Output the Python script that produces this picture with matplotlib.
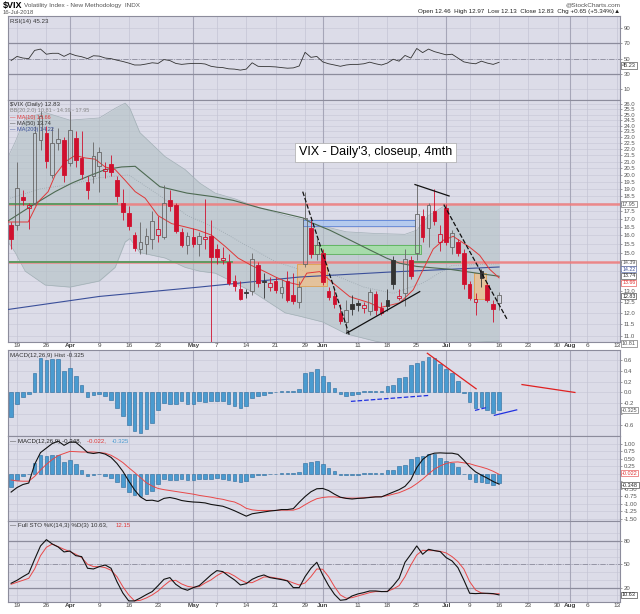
import numpy as np
import matplotlib
matplotlib.use('Agg')
import matplotlib.pyplot as plt
from matplotlib.ticker import NullLocator

plt.rcParams['font.family'] = ['Liberation Sans', 'DejaVu Sans']

# ---- date axis: trading days from 16 Mar 2018 (index 0) to 16 Jul 2018 (index 83), axis runs to mid Aug
tick_idx = [1, 6, 10, 15, 20, 25, 31, 35, 40, 45, 50, 53, 59, 64, 69, 74, 78, 83, 88, 93, 95, 98, 103]
tick_lab = ['19', '26', 'Apr', '9', '16', '23', 'May', '7', '14', '21', '29', 'Jun',
            '11', '18', '25', 'Jul', '9', '16', '23', '30', 'Aug', '6', '13']
month_idx = [10, 31, 53, 74, 95]

# ---- $VIX daily candles
opens = [16.6, 16.6, 18.45, 17.7, 18.0, 22.8, 23.4, 20.0, 22.5, 22.8,
         20.9, 22.9, 21.3, 19.5, 19.9, 20.7, 20.3, 20.8, 19.6, 18.0,
         17.4, 16.0, 15.2, 15.5, 15.8, 16.0, 15.9, 18.2, 17.9, 16.2,
         15.4, 15.9, 15.5, 15.8, 15.95, 15.2, 14.6, 14.5, 13.5, 13.1,
         12.95, 13.0, 14.3, 13.5, 13.2, 13.5, 12.9, 13.5, 12.8, 12.5,
         14.4, 16.4, 14.9, 15.0, 13.0, 12.75, 12.0, 11.6, 12.4, 12.45,
         12.2, 12.1, 12.85, 12.2, 12.6, 14.6, 12.7, 12.9, 14.6, 15.0,
         17.2, 16.4, 17.5, 15.6, 17.7, 15.3, 15.6, 15.0, 13.35, 12.5,
         14.0, 13.3, 12.4, 12.46]
highs = [16.8, 21.0, 18.9, 18.0, 24.0, 25.3, 24.0, 23.9, 23.8, 23.0,
         25.3, 23.5, 23.5, 19.9, 22.6, 22.2, 21.0, 21.5, 19.9, 19.0,
         17.8, 16.2, 16.8, 16.4, 17.5, 17.2, 19.3, 18.9, 18.0, 16.4,
         16.2, 16.4, 16.2, 18.3, 16.9, 15.5, 15.3, 14.9, 13.8, 13.5,
         13.1, 15.0, 14.5, 13.9, 13.7, 13.7, 13.6, 14.0, 13.9, 13.5,
         18.8, 16.9, 15.8, 15.2, 13.2, 13.1, 12.4, 12.6, 12.8, 12.6,
         12.5, 13.1, 13.0, 12.5, 13.1, 14.8, 13.1, 15.2, 14.8, 19.3,
         17.6, 18.0, 19.0, 16.6, 17.95, 16.3, 15.8, 15.2, 13.5, 12.9,
         14.1, 13.4, 12.6, 12.97]
lows = [15.2, 16.3, 17.9, 16.35, 17.9, 21.9, 20.5, 19.8, 21.9, 19.5,
        20.7, 20.6, 19.7, 18.3, 19.4, 18.8, 19.8, 19.9, 18.1, 16.9,
        16.3, 15.1, 14.9, 14.9, 15.2, 15.6, 15.8, 17.5, 16.1, 15.3,
        14.9, 15.3, 14.8, 15.2, 10.5, 14.4, 14.4, 13.3, 13.0, 12.6,
        12.7, 12.8, 13.2, 12.7, 13.0, 12.9, 12.7, 12.5, 12.4, 12.2,
        14.2, 14.7, 14.6, 13.3, 12.6, 12.2, 11.5, 11.15, 11.9, 12.1,
        12.0, 11.9, 11.9, 11.9, 12.1, 13.1, 12.6, 12.3, 13.6, 14.6,
        15.6, 15.3, 16.6, 15.1, 15.4, 14.9, 14.8, 13.1, 12.6, 11.9,
        13.2, 12.5, 11.6, 12.13]
closes = [15.80, 19.02, 18.20, 17.86, 23.34, 24.87, 21.03, 22.50, 22.87, 19.97,
          23.62, 21.10, 20.06, 18.94, 21.49, 21.77, 20.47, 20.24, 18.49, 17.41,
          16.56, 15.25, 15.60, 15.96, 16.88, 16.34, 18.02, 17.84, 16.24, 15.41,
          15.93, 15.49, 15.97, 15.90, 14.77, 14.75, 14.71, 13.42, 13.23, 12.65,
          12.93, 14.63, 13.42, 13.43, 13.42, 13.08, 13.22, 12.58, 12.53, 13.22,
          17.02, 14.94, 15.43, 13.46, 12.74, 12.40, 11.64, 12.13, 12.18, 12.35,
          12.34, 12.94, 12.12, 11.98, 12.31, 13.35, 12.79, 14.64, 13.77, 17.33,
          15.92, 17.91, 16.85, 16.09, 15.60, 16.14, 14.97, 13.37, 12.69, 12.64,
          13.63, 12.58, 12.18, 12.83]

# ---- overlays (at sample days)
bb_idx = [-0.5, 0.7, 2.4, 5.8, 10, 15, 17.7, 19.4, 20.2, 21.9, 26.2, 29.6, 32.1,
          34.7, 38.1, 41.5, 46.6, 49.1, 53, 57, 62, 67, 69, 71, 74, 83]
bb_up = [21.4, 22.6, 24.7, 25.2, 24.5, 24.7, 25.6, 26.1, 25.6, 23.4, 21.4, 20.4, 19.4,
         18.7, 18.3, 17.8, 17.2, 17.0, 16.55, 16.2, 16.1, 16.05, 16.3, 17.2, 17.9, 17.95]
bb_lo = [15.6, 15.0, 14.0, 13.3, 13.2, 13.5, 14.2, 15.6, 15.8, 15.0, 14.7, 14.2, 14.0,
         13.9, 13.4, 12.9, 12.0, 11.85, 11.6, 11.1, 10.8, 10.6, 10.6, 10.6, 10.7, 10.81]
bb_mid_idx = [-0.5, 5, 10, 15, 20, 25, 30, 35, 40, 45, 50, 55, 60, 65, 70, 75, 83]
bb_mid = [18.3, 19.0, 19.3, 19.8, 20.0, 18.6, 17.2, 16.4, 15.4, 14.5, 14.0, 13.8,
          13.2, 12.9, 13.4, 14.3, 14.39]

ma10_idx = [-0.5, 2.9, 4.6, 6.3, 7.5, 9.2, 10.9, 12.6, 14.3, 16, 17.7, 19.4, 21.1, 22.8,
            25, 27.3, 29.6, 31.8, 34.1, 36.4, 38.6, 40.9, 43, 45, 46.9, 49.1, 50.3, 52.5,
            54.8, 57.6, 61, 62.7, 66.1, 68.4, 70.1, 71.8, 73.5, 75.2, 78, 79.7, 81.4, 83]
ma10 = [16.8, 16.8, 18.1, 18.8, 20.0, 21.0, 21.5, 21.3, 21.2, 20.6, 20.4, 19.6, 18.8, 18.35,
        17.2, 16.7, 16.5, 16.3, 16.0, 15.35, 14.7, 14.3, 14.0, 13.7, 13.45, 13.3, 13.9, 13.98,
        13.39, 12.74, 12.45, 12.23, 12.45, 13.07, 14.1, 15.2, 15.7, 15.93, 15.3, 14.85, 14.1, 13.66]
ma50_idx = [-0.5, 2.4, 4.6, 7.5, 10.3, 13.1, 16, 18.8, 21.1, 25.3, 29.9, 34.4, 37.8, 42.3,
            46.9, 49.7, 50.8, 54.2, 57.6, 61, 63.9, 66.1, 69, 74.6, 79.2, 83]
ma50 = [16.87, 17.57, 18.1, 18.8, 19.4, 19.9, 20.4, 20.6, 20.65, 19.15, 18.7, 18.45, 18.2, 17.7,
        17.3, 17.05, 16.8, 16.3, 15.72, 15.15, 14.69, 14.42, 14.25, 14.1, 13.9, 13.74]
ma200_idx = [-0.5, 15, 32, 49, 64, 83]
ma200 = [12.15, 12.75, 13.2, 13.7, 13.95, 14.22]

# drawn-in levels, boxes and trend lines on the price panel
levels = [17.95, 14.5]
green_segs = [(-0.5, 18.0, 17.95), (-0.5, 37.6, 14.5), (68.7, 76.3, 14.5)]
zones = [(49.6, 68.7, 16.55, 16.95, '#a9c4f0', '#5b82d6'),
         (51.4, 69.7, 14.9, 15.42, '#9ee29e', '#58b058'),
         (48.6, 53.7, 13.25, 14.4, '#f0c08a', '#e0a050'),
         (78.8, 80.8, 12.65, 13.9, '#f0c08a', '#e0a050')]
trend_px = [((49.6, 18.8), (57.6, 11.0), '--'),
            ((57.1, 11.13), (69.5, 12.98), '-'),
            ((68.7, 19.3), (74.5, 18.5), '-'),
            ((73.6, 17.92), (84.4, 11.7), '--')]

# ---- indicators, one value per trading day
rsi = [47.5, 52.9, 50.8, 50.0, 60.8, 62.5, 55.8, 57.0, 57.0, 53.0,
       56.7, 54.0, 52.5, 50.0, 53.8, 53.3, 50.8, 50.0, 48.0, 46.3,
       44.2, 41.7, 41.7, 43.0, 44.6, 43.8, 48.8, 47.5, 43.8, 42.5,
       43.3, 43.8, 43.8, 43.0, 40.0, 38.8, 38.3, 36.7, 36.3, 35.0,
       36.3, 44.6, 40.0, 39.6, 39.6, 39.2, 38.3, 37.5, 37.9, 40.4,
       58.3, 51.7, 52.9, 45.8, 43.3, 41.7, 40.0, 41.7, 42.5, 42.5,
       43.3, 45.4, 43.3, 41.7, 44.2, 49.2, 46.7, 54.2, 50.8, 63.3,
       57.9, 62.5, 59.2, 57.1, 55.0, 55.8, 50.8, 45.8, 44.2, 43.3,
       46.7, 44.2, 42.5, 45.23]
hist = [-0.45, -0.21, -0.085, -0.025, 0.36, 0.63, 0.59, 0.61, 0.61, 0.39,
        0.45, 0.31, 0.13, -0.085, -0.04, -0.025, -0.065, -0.13, -0.28, -0.44,
        -0.60, -0.70, -0.74, -0.68, -0.57, -0.33, -0.19, -0.21, -0.22, -0.16,
        -0.22, -0.21, -0.16, -0.18, -0.16, -0.15, -0.16, -0.21, -0.24, -0.28,
        -0.25, -0.10, -0.06, -0.04, -0.01, 0.005, 0.03, 0.02, 0.02, 0.07,
        0.35, 0.38, 0.43, 0.31, 0.19, 0.085, -0.035, -0.06, -0.04, -0.03,
        0.025, 0.02, 0.02, 0.025, 0.11, 0.13, 0.27, 0.28, 0.50, 0.55,
        0.58, 0.65, 0.64, 0.53, 0.43, 0.35, 0.21, -0.01, -0.18, -0.28,
        -0.27, -0.32, -0.37, -0.325]
macd = [-0.61, -0.46, -0.36, -0.31, 0.31, 0.70, 0.85, 1.00, 1.08, 0.94,
        1.05, 1.04, 0.88, 0.70, 0.67, 0.70, 0.65, 0.54, 0.34, 0.08,
        -0.24, -0.54, -0.77, -0.89, -0.88, -0.92, -0.82, -0.79, -0.83, -0.89,
        -0.92, -0.94, -0.95, -0.97, -1.02, -1.05, -1.08, -1.15, -1.23, -1.32,
        -1.41, -1.33, -1.30, -1.27, -1.24, -1.22, -1.19, -1.19, -1.16, -0.95,
        -0.76, -0.60, -0.50, -0.49, -0.56, -0.68, -0.78, -0.82, -0.84, -0.82,
        -0.81, -0.79, -0.77, -0.77, -0.69, -0.61, -0.53, -0.42, -0.20, 0.20,
        0.47, 0.62, 0.68, 0.69, 0.68, 0.68, 0.64, 0.45, 0.23, 0.06,
        -0.05, -0.15, -0.26, -0.348]
signal = [-0.21, -0.24, -0.25, -0.25, -0.09, 0.12, 0.31, 0.47, 0.60, 0.67,
          0.74, 0.73, 0.72, 0.72, 0.72, 0.70, 0.68, 0.61, 0.50, 0.37,
          0.20, 0.04, -0.13, -0.30, -0.41, -0.49, -0.53, -0.56, -0.59, -0.62,
          -0.65, -0.68, -0.72, -0.75, -0.78, -0.82, -0.85, -0.90, -0.94, -1.03,
          -1.15, -1.20, -1.22, -1.22, -1.22, -1.22, -1.21, -1.21, -1.21, -1.15,
          -1.03, -0.92, -0.83, -0.79, -0.77, -0.77, -0.79, -0.81, -0.81, -0.81,
          -0.80, -0.78, -0.77, -0.76, -0.73, -0.68, -0.63, -0.55, -0.46, -0.33,
          -0.18, -0.01, 0.15, 0.26, 0.34, 0.38, 0.39, 0.36, 0.33, 0.27,
          0.22, 0.16, 0.08, -0.022]
sto_k = [25.6, 29.4, 34.1, 38.4, 56.4, 73.6, 81.7, 76.1, 72.3, 65.9,
         67.1, 61.1, 59.9, 44.9, 44.0, 47.0, 49.1, 44.9, 27.7, 13.1,
         2.9, 2.9, 6.7, 11.0, 14.9, 22.6, 30.7, 32.9, 24.3, 19.1,
         16.6, 20.0, 22.6, 29.4, 36.3, 41.9, 40.6, 35.0, 29.9, 23.4,
         25.1, 30.7, 34.1, 36.3, 32.9, 31.6, 30.3, 28.6, 20.0, 20.0,
         34.1, 44.9, 52.6, 36.3, 22.6, 11.4, 3.7, 4.6, 9.3, 11.9,
         13.6, 15.7, 15.7, 14.9, 14.9, 22.6, 32.0, 52.6, 62.9, 73.6,
         62.9, 69.3, 67.6, 66.3, 58.6, 54.3, 45.7, 29.9, 12.7, 12.3,
         12.7, 12.7, 12.3, 10.63]
sto_d = [24.3, 26.9, 29.4, 32.0, 44.0, 61.1, 71.9, 76.1, 72.7, 69.3,
         66.3, 62.9, 58.6, 50.0, 47.0, 47.0, 45.7, 42.3, 34.1, 21.3,
         10.6, 2.9, 3.7, 6.7, 10.6, 15.7, 22.6, 28.6, 29.4, 24.7,
         21.7, 20.4, 21.3, 26.0, 29.9, 35.4, 39.7, 38.9, 35.0, 29.9,
         26.4, 26.4, 29.9, 33.7, 33.7, 32.4, 31.1, 29.0, 26.0, 23.4,
         26.0, 34.1, 44.0, 43.6, 34.1, 21.3, 10.6, 6.3, 7.1, 9.3,
         11.4, 13.6, 14.9, 14.9, 15.3, 18.3, 22.6, 34.1, 49.1, 62.0,
         68.0, 67.6, 67.6, 66.7, 64.6, 59.9, 53.4, 44.0, 27.7, 17.0,
         13.1, 12.3, 11.9, 12.15]

# drawn lines on the histogram panel
trend_hist = [((70.8, 0.72), (79.1, 0.067), '#e02020', '-'),
              ((57.8, -0.164), (71.0, -0.055), '#2030e0', '--'),
              ((78.9, -0.33), (81.1, -0.27), '#2030e0', '--'),
              ((82.2, -0.42), (86.0, -0.32), '#2030e0', '-'),
              ((86.9, 0.145), (95.9, 0.0), '#e02020', '-')]

# ---------------------------------------------------------------- layout
W, H = 640.0, 614.0
BG = '#dcdce8'
X0, X1 = -0.53, 103.57


def box(top, bottom):
    return [8 / W, 1 - bottom / H, 612 / W, (bottom - top) / H]


fig = plt.figure(figsize=(6.4, 6.14), dpi=100)
fig.patch.set_facecolor('white')
ax_rsi = fig.add_axes(box(16, 100))
ax_px = fig.add_axes(box(100, 342))
ax_hist = fig.add_axes(box(350, 436))
ax_macd = fig.add_axes(box(436, 521))
ax_sto = fig.add_axes(box(521, 602))


def style(ax, yticks, ylabels, grid=None):
    ax.set_facecolor(BG)
    ax.set_xlim(X0, X1)
    ax.yaxis.tick_right()
    ax.yaxis.set_minor_locator(NullLocator())
    ax.set_yticks(yticks)
    ax.set_yticklabels(ylabels)
    ax.tick_params(axis='y', length=1.5, width=0.4, labelsize=4.3, pad=1,
                   colors='#555555')
    ax.set_xticks(tick_idx)
    ax.tick_params(axis='x', length=0, labelbottom=False)
    for s in ax.spines.values():
        s.set_color('#8c8c9c')
        s.set_linewidth(0.8)
    for t in (grid if grid is not None else yticks):
        ax.axhline(t, color='#cacad9', lw=0.5, zorder=0)
    for t in tick_idx:
        ax.axvline(t, color='#c4c4d4', lw=0.5, zorder=0)
    for t in month_idx:
        ax.axvline(t, color='#a6a6b8', lw=0.8, zorder=0)


def tag(ax, y, s, color='#222222', dy=0, size=4.0):
    ax.annotate(s, xy=(1.0, y), xycoords=ax.get_yaxis_transform(),
                xytext=(1.5, dy), textcoords='offset points', fontsize=size,
                color=color, va='center', ha='left', annotation_clip=False,
                zorder=10, bbox=dict(boxstyle='square,pad=0.12', fc='white',
                                     ec=color, lw=0.4))


def label(ax, y_frac, parts, x0=0.004, size=4.4):
    x = x0
    for s, c in parts:
        ax.text(x, y_frac, s, transform=ax.transAxes, fontsize=size,
                color=c, va='top', ha='left', zorder=12)
        x += len(s) * size * 0.52 / (612 * 0.72)


def blank(labels, hide):
    return ['' if s in hide else s for s in labels]


# ---------------------------------------------------------------- header
fig.text(3 / W, 1 - 5.5 / H, '$VIX', fontsize=6.5, weight='bold', va='center')
fig.text(24 / W, 1 - 5.5 / H, 'Volatility Index - New Methodology  INDX', fontsize=4.6,
         color='#555555', va='center')
fig.text(3 / W, 1 - 12.5 / H, '16-Jul-2018', fontsize=4.2, color='#555555', va='center')
fig.text(620 / W, 1 - 5 / H, '@StockCharts.com', fontsize=4.6, color='#555555',
         va='center', ha='right')
fig.text(620 / W, 1 - 12 / H,
         'Open 12.46  High 12.97  Low 12.13  Close 12.83  Chg +0.65 (+5.34%)\u25b2',
         fontsize=4.5, color='#222222', va='center', ha='right')

# ---------------------------------------------------------------- RSI
style(ax_rsi, [10, 30, 50, 70, 90], ['10', '30', '50', '70', '90'])
ax_rsi.set_ylim(-4.1, 105.8)
ax_rsi.axhline(70, color='#8c8c9c', lw=0.9, zorder=1)
ax_rsi.axhline(30, color='#8c8c9c', lw=0.9, zorder=1)
ax_rsi.axhline(50, color='#8c8c9c', lw=0.6, ls='-.', zorder=1)
ax_rsi.plot(range(len(rsi)), rsi, color='#333333', lw=0.6, zorder=3)
label(ax_rsi, 0.97, [('RSI(14) 45.23', '#333333')])
tag(ax_rsi, rsi[-1], '45.23', '#333333', dy=-2.2)

# ---------------------------------------------------------------- price
ax_px.set_yscale('log')
px_ticks = list(np.arange(11.0, 26.01, 0.5))
style(ax_px, px_ticks, blank(['%.1f' % t for t in px_ticks], {'18.0', '14.0', '13.5'}))
ax_px.set_ylim(10.77, 26.4)
ax_px.fill_between(bb_idx, bb_lo, bb_up, color='#b2c0c4', alpha=0.6, lw=0, zorder=1)
ax_px.plot(bb_idx, bb_up, color='#a2b0b6', lw=0.5, zorder=1)
ax_px.plot(bb_idx, bb_lo, color='#a2b0b6', lw=0.5, zorder=1)
ax_px.plot(bb_mid_idx, bb_mid, color='#9aa6ae', lw=0.6, ls=':', zorder=1)

for lv in levels:
    ax_px.axhline(lv, color='#f07a7a', lw=1.8, alpha=0.85, zorder=2)
for a, b, lv in green_segs:
    ax_px.plot([a, b], [lv, lv], color='#5e9a62', lw=1.4, zorder=2)
for a, b, lo, hi, fc, ec in zones:
    ax_px.fill_between([a, b], [lo, lo], [hi, hi], color=fc, alpha=0.75, lw=0, zorder=2)
    ax_px.plot([a, b, b, a, a], [lo, lo, hi, hi, lo], color=ec, lw=0.6, zorder=2)

ax_px.plot(ma200_idx, ma200, color='#3a4f9a', lw=0.8, zorder=3)
ax_px.plot(ma50_idx, ma50, color='#4d6a52', lw=0.8, zorder=3)
ax_px.plot(ma10_idx, ma10, color='#e03838', lw=0.7, zorder=3)

RED, UP = '#d0102e', '#333333'
wdt = 0.62
for i in range(len(closes)):
    o, h, l, c = opens[i], highs[i], lows[i], closes[i]
    prev = closes[i - 1] if i > 0 else np.inf
    col = RED if c < prev else UP
    top, bot = max(o, c), min(o, c)
    filled = c < o
    edge = col if (filled or col == RED) else '#666666'
    ax_px.vlines(i, top, h, color=edge, lw=0.6, zorder=4)
    ax_px.vlines(i, l, bot, color=edge, lw=0.6, zorder=4)
    ht = max(top - bot, 0.04)
    ax_px.bar(i, ht, bottom=bot, width=wdt, color=col if filled else 'none',
              edgecolor=edge, lw=0.6, zorder=5)

for (a, pa), (b, pb), ls in trend_px:
    ax_px.plot([a, b], [pa, pb], color='#111111', lw=0.9, ls=ls, zorder=6)

ax_px.text(49.0, 21.75, "VIX - Daily'3, closeup, 4mth", fontsize=9, va='center',
           ha='left', zorder=8,
           bbox=dict(boxstyle='square,pad=0.3', fc='white', ec='#aaaaaa', lw=0.5))

label(ax_px, 0.99, [('$VIX (Daily) 12.83', '#333333')])
label(ax_px, 0.965, [('BB(20,2.0) 10.81 - 14.39 - 17.95', '#888888')], size=4.0)
label(ax_px, 0.94, [('\u2014 MA(10) 13.66', '#e03838')], size=4.0)
label(ax_px, 0.915, [('\u2014 MA(50) 13.74', '#333333')], size=4.0)
label(ax_px, 0.89, [('\u2014 MA(200) 14.22', '#3a4f9a')], size=4.0)

ax_px.tick_params(axis='x', labelbottom=True, labelsize=4.6, pad=0.6, colors='#444444')
ax_px.set_xticklabels(tick_lab)
for t, s in zip(ax_px.get_xticklabels(), tick_lab):
    if not s.isdigit():
        t.set_fontweight('bold')

tag(ax_px, 17.95, '17.95', '#555555')
tag(ax_px, 14.39, '14.39', '#555555', dy=0.8, size=3.8)
tag(ax_px, 14.22, '14.22', '#3a4f9a', dy=-1.6, size=3.8)
tag(ax_px, 13.74, '13.74', '#333333', dy=0.4, size=3.8)
tag(ax_px, 13.66, '13.66', '#e03838', dy=-3.6, size=3.8)
tag(ax_px, 12.83, '12.83', '#222222', dy=-1.0, size=3.8)
tag(ax_px, 10.81, '10.81', '#555555', dy=-1.8)

# ---------------------------------------------------------------- MACD histogram
h_ticks = [-0.6, -0.4, -0.2, 0.0, 0.2, 0.4, 0.6]
style(ax_hist, h_ticks, ['-0.6', '', '-0.2', '0.0', '0.2', '0.4', '0.6'])
ax_hist.set_ylim(-0.8, 0.78)
ax_hist.bar(range(len(hist)), hist, width=0.62, color='#4a9bd0', edgecolor='#2a6a9c',
            lw=0.4, zorder=3)
for (a, va), (b, vb), c, ls in trend_hist:
    ax_hist.plot([a, b], [va, vb], color=c, lw=0.9, ls=ls, zorder=4)
label(ax_hist, 0.97, [('MACD(12,26,9) Hist -0.325', '#333333')])
tag(ax_hist, hist[-1], '-0.325', '#555555')

# ---------------------------------------------------------------- MACD
m_ticks = [-1.5, -1.25, -1.0, -0.75, -0.5, -0.25, 0.0, 0.25, 0.5, 0.75, 1.0]
style(ax_macd, m_ticks, blank(['%.2f' % t for t in m_ticks], {'0.00', '-0.25'}))
ax_macd.set_ylim(-1.57, 1.25)
ax_macd.bar(range(len(hist)), hist, width=0.62, color='#4a9bd0', edgecolor='#2a6a9c',
            lw=0.4, zorder=2)
ax_macd.plot(range(len(signal)), signal, color='#e84848', lw=0.7, zorder=3)
ax_macd.plot(range(len(macd)), macd, color='#111111', lw=0.8, zorder=4)
label(ax_macd, 0.97, [('\u2014 MACD(12,26,9) -0.348, ', '#222222'), ('-0.022, ', '#e03838'),
                      ('-0.325', '#4a9bd0')])
tag(ax_macd, signal[-1], '-0.022', '#e03838', dy=0.8)
tag(ax_macd, macd[-1], '-0.348', '#222222', dy=-0.8)

# ---------------------------------------------------------------- Full stochastic
style(ax_sto, [20, 50, 80], ['20', '50', '80'], grid=[10, 20, 30, 40, 50, 60, 70, 80, 90])
ax_sto.set_ylim(1.5, 105.7)
ax_sto.axhline(80, color='#8c8c9c', lw=0.9, zorder=1)
ax_sto.axhline(20, color='#8c8c9c', lw=0.9, zorder=1)
ax_sto.axhline(50, color='#8c8c9c', lw=0.6, ls='-.', zorder=1)
ax_sto.plot(range(len(sto_d)), sto_d, color='#e84848', lw=0.7, zorder=3)
ax_sto.plot(range(len(sto_k)), sto_k, color='#111111', lw=0.8, zorder=4)
label(ax_sto, 0.97, [('\u2014 Full STO %K(14,3) %D(3) 10.63, ', '#333333'),
                     ('12.15', '#e03838')])
tag(ax_sto, sto_k[-1], '10.63', '#222222')
ax_sto.tick_params(axis='x', labelbottom=True, labelsize=4.6, pad=0.6, colors='#444444')
ax_sto.set_xticklabels(tick_lab)
for t, s in zip(ax_sto.get_xticklabels(), tick_lab):
    if not s.isdigit():
        t.set_fontweight('bold')

fig.savefig('out.png', dpi=100, facecolor='white')
